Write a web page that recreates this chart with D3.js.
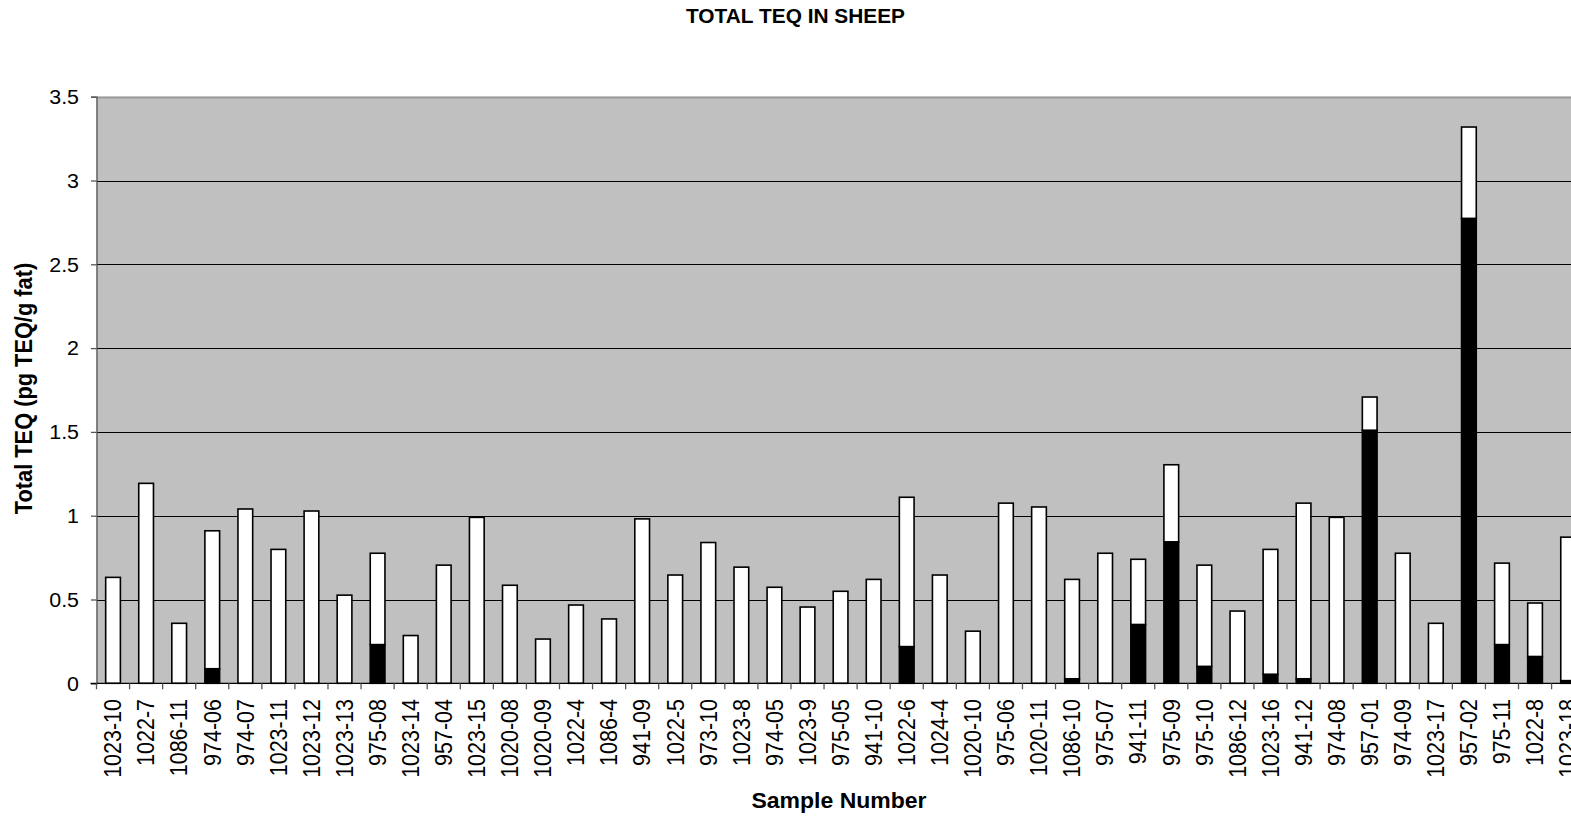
<!DOCTYPE html>
<html>
<head>
<meta charset="utf-8">
<script src="https://cdn.jsdelivr.net/npm/d3@7"></script>
<style>
  html, body { margin: 0; padding: 0; background: #fff; }
  svg { display: block; font-family: "Liberation Sans", Arial, sans-serif; }
</style>
</head>
<body>
<svg id="chart" width="1571" height="818"></svg>
<script>
// ---- data ----
const categories = ["1023-10","1022-7","1086-11","974-06","974-07","1023-11","1023-12","1023-13","975-08","1023-14",
  "957-04","1023-15","1020-08","1020-09","1022-4","1086-4","941-09","1022-5","973-10","1023-8",
  "974-05","1023-9","975-05","941-10","1022-6","1024-4","1020-10","975-06","1020-11","1086-10",
  "975-07","941-11","975-09","975-10","1086-12","1023-16","941-12","974-08","957-01","974-09",
  "1023-17","957-02","975-11","1022-8","1023-18"];
const totalTEQ = [0.632,1.193,0.358,0.910,1.040,0.799,1.028,0.526,0.776,0.285,
  0.705,0.990,0.585,0.264,0.467,0.384,0.981,0.646,0.840,0.693,
  0.573,0.455,0.549,0.620,1.110,0.646,0.311,1.075,1.052,0.620,
  0.776,0.740,1.304,0.705,0.431,0.799,1.075,0.990,1.708,0.776,
  0.358,3.319,0.717,0.479,0.872];
const blackPart = [0,0,0,0.087,0,0,0,0,0.231,0,
  0,0,0,0,0,0,0,0,0,0,
  0,0,0,0,0.219,0,0,0,0,0.027,
  0,0.351,0.844,0.101,0,0.054,0.027,0,1.510,0,
  0,2.774,0.231,0.160,0.016];
const yTicks = [0,0.5,1,1.5,2,2.5,3,3.5];
const yTickLabels = ["0","0.5","1","1.5","2","2.5","3","3.5"];
const titleText = "TOTAL TEQ IN SHEEP";
const yTitle = "Total TEQ (pg TEQ/g fat)";
const xTitle = "Sample Number";

// ---- layout ----
const W = 1571, H = 818;
const left = 96.5, step = 33.07;
const y0 = 683.3, yTop = 96.7;
const K = 1.07; // horizontal stretch of the original's text

const svg = d3.select("#chart");

const x = d3.scaleBand().domain(categories)
  .range([left, left + step * categories.length]).paddingInner(0.555).paddingOuter(0.2775);
const y = d3.scaleLinear().domain([0, 3.5]).range([y0, yTop]);

const rows = categories.map((c, i) => ({cat: c, black: blackPart[i], white: totalTEQ[i] - blackPart[i]}));
const stacked = d3.stack().keys(["black", "white"])(rows);

// plot background
svg.append("rect").attr("x", left).attr("y", yTop)
  .attr("width", step * categories.length + 10).attr("height", y0 - yTop)
  .attr("fill", "#c0c0c0");

// gridlines
svg.append("g").selectAll("line").data(yTicks.filter(t => t > 0 && t < 3.5)).join("line")
  .attr("x1", left).attr("x2", W + 20)
  .attr("y1", d => Math.round(y(d)) + 0.5).attr("y2", d => Math.round(y(d)) + 0.5)
  .attr("stroke", "#000").attr("stroke-width", 1);

// top border
svg.append("line").attr("x1", left).attr("x2", W + 20)
  .attr("y1", Math.round(yTop) + 0.5).attr("y2", Math.round(yTop) + 0.5)
  .attr("stroke", "#9a9a9a").attr("stroke-width", 2);

// bars
const colors = {black: "#000", white: "#fff"};
svg.append("g").selectAll("g").data(stacked).join("g")
  .attr("fill", d => colors[d.key])
  .selectAll("rect").data(d => d.filter(v => v[1] - v[0] > 0)).join("rect")
  .attr("x", d => x(d.data.cat))
  .attr("y", d => y(d[1]))
  .attr("width", x.bandwidth())
  .attr("height", d => y(d[0]) - y(d[1]))
  .attr("stroke", "#000").attr("stroke-width", 1.6);

// y axis
const yAxis = d3.axisLeft(y).tickValues(yTicks).tickSize(5.5).tickFormat("");
const gy = svg.append("g").attr("transform", `translate(${left},0)`).call(yAxis);
gy.select(".domain").attr("stroke", "#555").attr("stroke-width", 1.3);
gy.selectAll(".tick line").attr("stroke", "#555").attr("stroke-width", 1.3);
yTicks.forEach((t, i) => {
  svg.append("text")
    .attr("transform", `translate(79,${y(t)}) scale(${K},1)`)
    .attr("text-anchor", "end").attr("dy", "0.36em")
    .attr("font-size", 20).attr("fill", "#000")
    .text(yTickLabels[i]);
});

// x axis
const xAxis = d3.axisBottom(x).tickSize(0).tickFormat("");
const gx = svg.append("g").attr("transform", `translate(0,${y0})`).call(xAxis);
gx.select(".domain").attr("stroke", "#000").attr("stroke-width", 1.3)
  .attr("d", `M${left - 6},0H${W + 20}`);
// category boundary ticks
const bounds = d3.range(categories.length + 1).map(i => left + i * x.step());
gx.append("g").selectAll("line").data(bounds).join("line")
  .attr("x1", d => d).attr("x2", d => d).attr("y1", 0).attr("y2", 6)
  .attr("stroke", "#555").attr("stroke-width", 1.3);

// x tick labels
svg.append("g").selectAll("text").data(categories).join("text")
  .attr("transform", d => `translate(${x(d) + x.bandwidth() / 2},699) scale(${K},1) rotate(-90)`)
  .attr("text-anchor", "end").attr("dy", "0.36em")
  .attr("font-size", 21.5).attr("fill", "#000")
  .text(d => d);

// titles
svg.append("text")
  .attr("transform", `translate(795.5,23) scale(${K},1)`)
  .attr("text-anchor", "middle").attr("font-weight", "bold").attr("font-size", 19.5)
  .text(titleText);
svg.append("text")
  .attr("transform", `translate(31.5,388.5) scale(${K},1) rotate(-90)`)
  .attr("text-anchor", "middle").attr("font-weight", "bold").attr("font-size", 21.8)
  .text(yTitle);
svg.append("text")
  .attr("transform", `translate(839,808) scale(${K},1)`)
  .attr("text-anchor", "middle").attr("font-weight", "bold").attr("font-size", 21.5)
  .text(xTitle);
</script>
</body>
</html>
